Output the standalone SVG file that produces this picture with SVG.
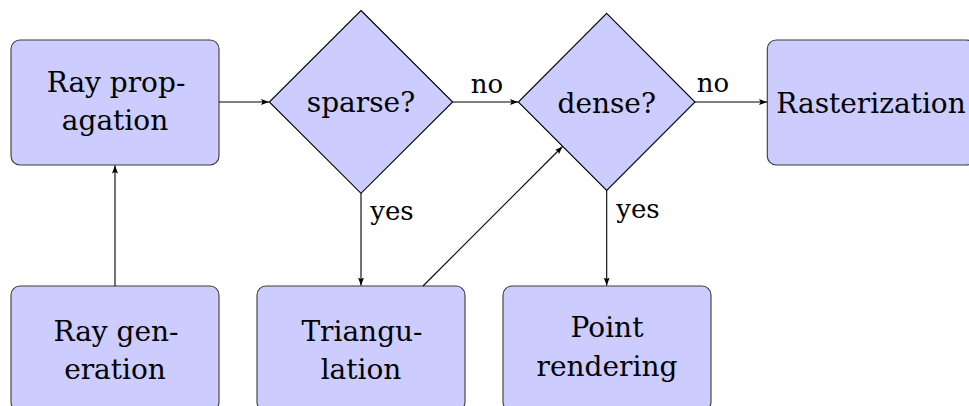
<svg xmlns="http://www.w3.org/2000/svg" width="969" height="406" viewBox="0 0 969 406">
  <style>
    .box { fill: #ccccff; stroke: #3a3a3a; stroke-width: 1.1; }
    .dia { fill: #ccccff; stroke: #000; stroke-width: 1.1; }
    .lbl { font-family: 'DejaVu Serif', serif; font-size: 28px; fill: #000; text-anchor: middle; }
    .edge { font-family: 'DejaVu Serif', serif; font-size: 26px; fill: #000; text-anchor: middle; }
    .conn { stroke: #000; stroke-width: 1.1; fill: none; marker-end: url(#arrow); }
  </style>
  <defs>
    <marker id="arrow" markerUnits="userSpaceOnUse" markerWidth="10" markerHeight="8" refX="8" refY="3" orient="auto">
      <path d="M0,0 L8,3 L0,6 L1.6,3 z" fill="#000"/>
    </marker>
  </defs>
  <rect width="969" height="406" fill="#fff"/>

  <g id="ray-propagation">
    <rect class="box" x="11" y="40" width="208" height="125" rx="9"/>
    <text class="lbl" x="116" y="92">Ray prop-</text>
    <text class="lbl" x="115" y="130">agation</text>
  </g>

  <g id="sparse">
    <polygon class="dia" points="361,10.5 452.7,102 361,193.3 269.3,102"/>
    <text class="lbl" x="361" y="112">sparse?</text>
  </g>

  <g id="dense">
    <polygon class="dia" points="606.7,13.4 695,102 606.7,190.5 518.3,102"/>
    <text class="lbl" x="606.7" y="113">dense?</text>
  </g>

  <g id="rasterization">
    <rect class="box" x="767.3" y="40" width="208" height="125" rx="9"/>
    <text class="lbl" x="871" y="113">Rasterization</text>
  </g>

  <g id="ray-generation">
    <rect class="box" x="11" y="286" width="208" height="125" rx="9"/>
    <text class="lbl" x="116" y="341">Ray gen-</text>
    <text class="lbl" x="115" y="379">eration</text>
  </g>

  <g id="triangulation">
    <rect class="box" x="257" y="286" width="208" height="125" rx="9"/>
    <text class="lbl" x="362" y="341">Triangu-</text>
    <text class="lbl" x="361" y="379">lation</text>
  </g>

  <g id="point-rendering">
    <rect class="box" x="503" y="286" width="208" height="125" rx="9"/>
    <text class="lbl" x="607" y="337">Point</text>
    <text class="lbl" x="607" y="376">rendering</text>
  </g>

  <g id="connectors">
    <line class="conn" x1="115" y1="286" x2="115" y2="165.5"/>
    <line class="conn" x1="219" y1="102" x2="269" y2="102"/>
    <line class="conn" x1="452.7" y1="102" x2="518" y2="102"/>
    <line class="conn" x1="695" y1="102" x2="767" y2="102"/>
    <line class="conn" x1="361" y1="193.3" x2="361" y2="285.5"/>
    <line class="conn" x1="606.7" y1="190.5" x2="606.7" y2="285.5"/>
    <line class="conn" x1="423" y1="286" x2="562.5" y2="146.5"/>
    <text class="edge" x="487" y="93">no</text>
    <text class="edge" x="713" y="92">no</text>
    <text class="edge" x="392" y="220">yes</text>
    <text class="edge" x="638" y="218">yes</text>
  </g>
</svg>
